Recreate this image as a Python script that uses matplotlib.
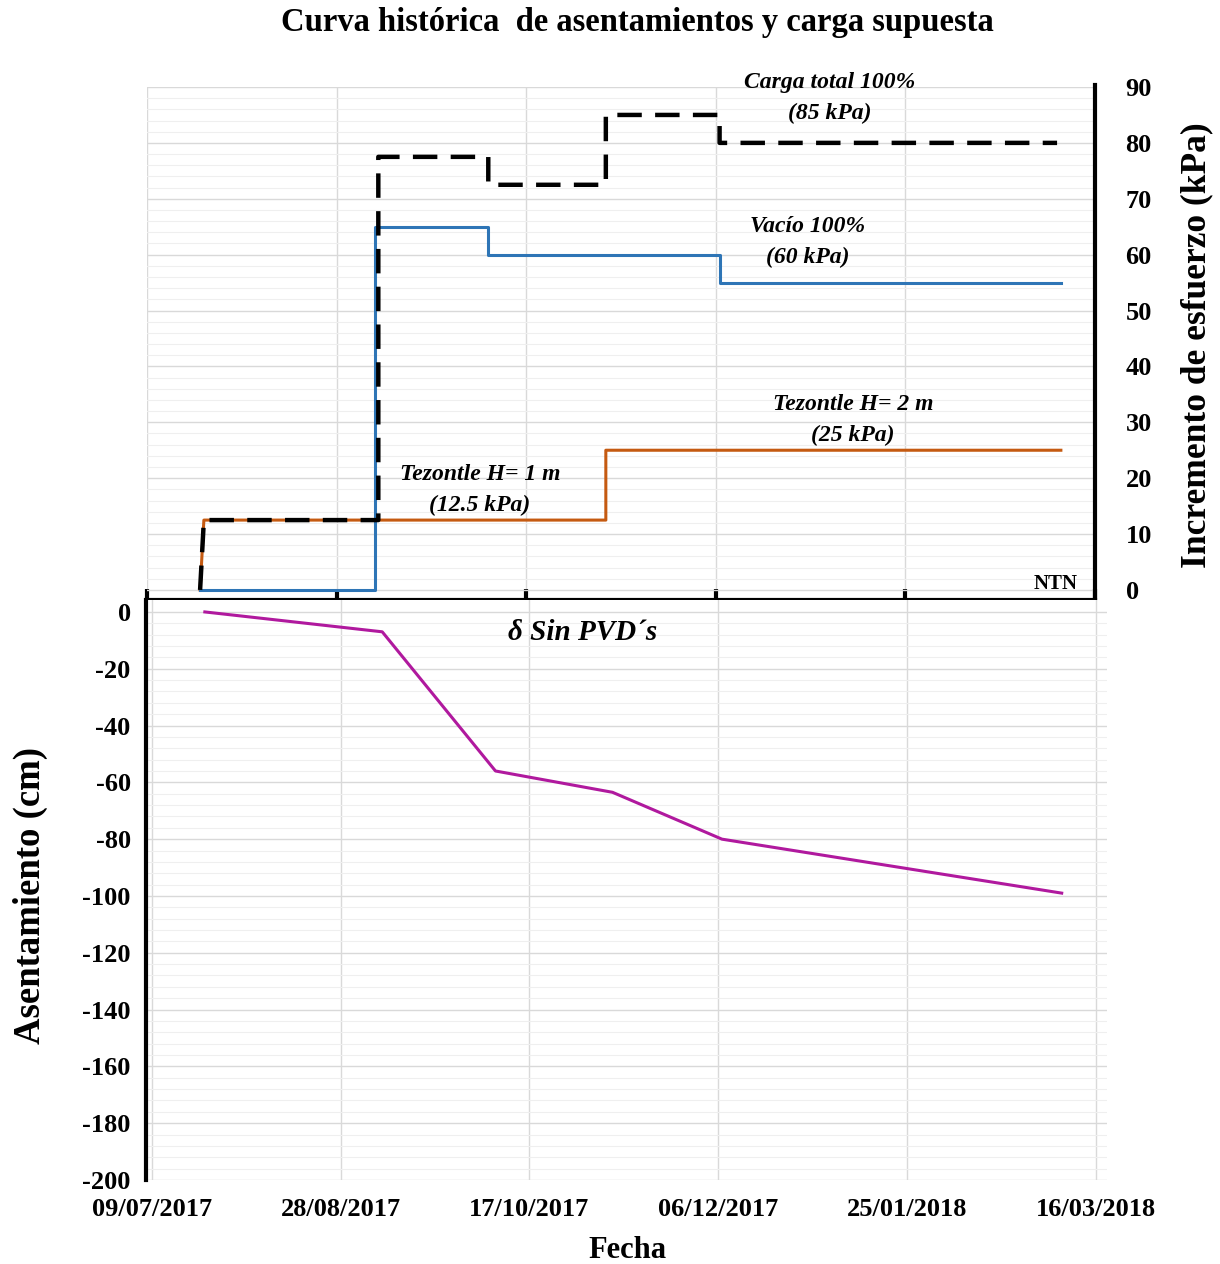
import matplotlib
matplotlib.use("Agg")
import matplotlib.pyplot as plt
import matplotlib.dates as mdates
import numpy as np
import pandas as pd
from matplotlib.ticker import FixedLocator, MultipleLocator

# carga supuesta (kPa)
fechas_tezontle = ["2017-07-23", "2017-07-24", "2017-11-07", "2017-11-07", "2018-03-07"]
tezontle = [0, 12.5, 12.5, 25, 25]

fechas_vacio = ["2017-07-23", "2017-09-07", "2017-09-07", "2017-10-07", "2017-10-07",
                "2017-12-07", "2017-12-07", "2018-03-07"]
vacio = [0, 0, 65, 65, 60, 60, 55, 55]

fechas_carga = ["2017-07-23", "2017-07-24", "2017-09-08", "2017-09-08", "2017-10-07",
                "2017-10-07", "2017-11-07", "2017-11-07", "2017-12-07", "2017-12-07",
                "2018-03-06"]
carga = [0, 12.5, 12.5, 77.5, 77.5, 72.5, 72.5, 85, 85, 80, 80]

# asentamiento medido (cm)
fechas_asent = ["2017-07-23", "2017-09-08", "2017-10-08", "2017-11-08", "2017-12-07", "2018-03-07"]
asentamiento = [0, -7, -56, -63.5, -80, -99]

fechas_ticks = pd.date_range("2017-07-09", periods=6, freq="50D")

plt.rcParams["font.family"] = ["Liberation Serif", "DejaVu Serif"]
plt.rcParams["font.weight"] = "bold"
plt.rcParams["axes.unicode_minus"] = False

W, H = 1220, 1264
fig = plt.figure(figsize=(W / 100, H / 100), dpi=100)


def caja(x0, y0, x1, y1):
    # caja en pixeles -> fraccion de figura
    return [x0 / W, 1 - y1 / H, (x1 - x0) / W, (y1 - y0) / H]


def pos(x, y):
    return x / W, 1 - y / H


# ---- grafica superior: carga ----
ax1 = fig.add_axes(caja(147, 87, 1095, 600))
ax1.set_axisbelow(True)
ax1.plot(pd.to_datetime(fechas_tezontle), tezontle, color="#C55A11", lw=2.2)
ax1.plot(pd.to_datetime(fechas_vacio), vacio, color="#2E75B6", lw=2.2)
ax1.plot(pd.to_datetime(fechas_carga), carga, color="black", lw=3.2,
         linestyle=(0, (5.5, 3)), dash_capstyle="butt")

ax1.set_xlim(pd.Timestamp("2017-07-09"), pd.Timestamp("2018-03-16"))
ax1.set_ylim(-1.8, 90)
ax1.xaxis.set_major_locator(FixedLocator(mdates.date2num(fechas_ticks)))
ax1.yaxis.set_major_locator(MultipleLocator(10))
ax1.yaxis.set_minor_locator(MultipleLocator(2))
ax1.grid(which="major", color="#d9d9d9", lw=1)
ax1.grid(which="minor", axis="y", color="#efefef", lw=0.8)
ax1.tick_params(axis="x", direction="inout", length=16, width=3, labelbottom=False)
ax1.tick_params(axis="y", which="both", length=0, labelleft=False, labelright=True,
                pad=22, labelsize=19)
for s in ["left", "top"]:
    ax1.spines[s].set_visible(False)
for s in ["bottom", "right"]:
    ax1.spines[s].set_linewidth(3)
ax1.spines["right"].set_bounds(-4.5, 90.3)

# ---- grafica inferior: asentamiento ----
ax2 = fig.add_axes(caja(146, 600, 1107, 1180))
ax2.set_axisbelow(True)
ax2.plot(pd.to_datetime(fechas_asent), asentamiento, color="#B0199E", lw=2.2)

ax2.set_xlim(pd.Timestamp("2017-07-07 10:00"), pd.Timestamp("2018-03-19"))
ax2.set_ylim(-200, 4.2)
ax2.xaxis.set_major_locator(FixedLocator(mdates.date2num(fechas_ticks)))
ax2.xaxis.set_major_formatter(mdates.DateFormatter("%d/%m/%Y"))
ax2.yaxis.set_major_locator(FixedLocator(np.arange(-200, 1, 20)))
ax2.yaxis.set_minor_locator(FixedLocator(np.arange(-200, 1, 4)))
ax2.grid(which="major", color="#d9d9d9", lw=1)
ax2.grid(which="minor", axis="y", color="#efefef", lw=0.8)
ax2.tick_params(axis="x", length=0, pad=13, labelsize=19)
ax2.tick_params(axis="y", which="both", length=0, pad=11, labelsize=19)
for s in ["right", "top", "bottom"]:
    ax2.spines[s].set_visible(False)
ax2.spines["left"].set_linewidth(3)

# ---- textos ----
fig.text(*pos(637, 22), "Curva histórica  de asentamientos y carga supuesta",
         ha="center", va="center", fontsize=23.5, weight="bold")
fig.text(*pos(1197, 345), "Incremento de esfuerzo (kPa)", rotation=90,
         ha="center", va="center", fontsize=25.5, weight="bold")
fig.text(*pos(30, 895), "Asentamiento (cm)", rotation=90,
         ha="center", va="center", fontsize=26.5, weight="bold")
fig.text(*pos(627, 1250), "Fecha", ha="center", va="center", fontsize=22, weight="bold")

notas = [
    (830, 98, "Carga total 100%\n(85 kPa)"),
    (808, 242, "Vacío 100%\n(60 kPa)"),
    (853, 420, "Tezontle H= 2 m\n(25 kPa)"),
    (480, 490, "Tezontle H= 1 m\n(12.5 kPa)"),
]
for x, y, t in notas:
    fig.text(*pos(x, y), t, ha="center", va="center", fontsize=17,
             style="italic", weight="bold", linespacing=1.65)
fig.text(*pos(583, 633), "δ Sin PVD´s", ha="center", va="center", fontsize=21,
         style="italic", weight="bold")
fig.text(*pos(1078, 584), "NTN", ha="right", va="center", fontsize=15, weight="bold")

plt.savefig("out.png", dpi=100)
